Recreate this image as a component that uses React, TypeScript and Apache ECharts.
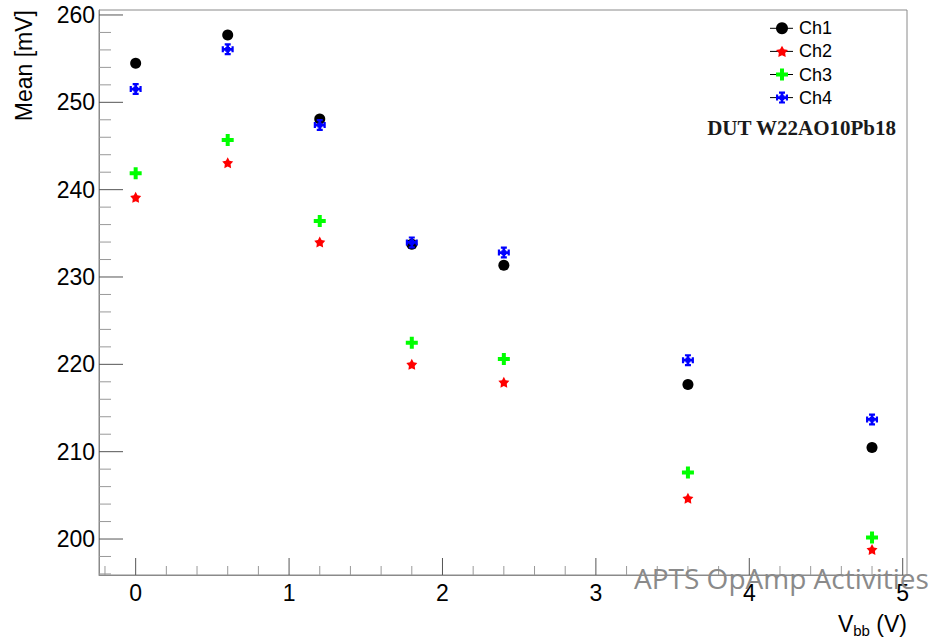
import React, { useEffect, useRef } from "react";
import * as echarts from "echarts";

// ---- data ----
const vbb = [0, 0.6, 1.2, 1.8, 2.4, 3.6, 4.8];
const ch1 = [254.47, 257.7, 248.09, 233.75, 231.35, 217.7, 210.48];
const ch2 = [239.12, 243.08, 234.0, 220.0, 217.96, 204.67, 198.8];
const ch3 = [241.87, 245.68, 236.4, 222.46, 220.6, 207.62, 200.17];
const ch4 = [251.52, 256.07, 247.4, 233.96, 232.8, 220.48, 213.69];
const seriesNames = ["Ch1", "Ch2", "Ch3", "Ch4"];

// axis ticks
const xMajorTicks = [0, 1, 2, 3, 4, 5];
const yMajorTicks = [200, 210, 220, 230, 240, 250, 260];
const X_MIN = -0.239;
const X_MAX = 5.028;
const Y_MIN = 195.88;
const Y_MAX = 260.57;

const xMinorTicks: number[] = [];
for (let i = -1; i <= 25; i++) {
  const v = Math.round(i * 0.2 * 10) / 10;
  if (v > X_MIN && v < X_MAX && !xMajorTicks.includes(v)) xMinorTicks.push(v);
}
const yMinorTicks: number[] = [];
for (let v = 196; v <= 260; v += 2) {
  if (v > Y_MIN && v < Y_MAX && !yMajorTicks.includes(v)) yMinorTicks.push(v);
}

// marker shapes
const STAR =
  "path://M50 0 L65.5 28.7 L97.55 34.55 L75 58.5 L79.39 90.45 L50 76.5 L20.61 90.45 L25 58.5 L2.45 34.55 L34.5 28.7 Z";
const CROSS = "path://M4 0H8V4H12V8H8V12H4V8H0V4H4Z";
const TCROSS =
  "path://M4.6 0H7.4V12H4.6Z M0 4.6H12V7.4H0Z M3 0H9V2.2H3Z M3 9.8H9V12H3Z M0 3H2.2V9H0Z M9.8 3H12V9H9.8Z M3.6 3.6H8.4V8.4H3.6Z";

const FONT = "Liberation Sans, Arial, Helvetica, sans-serif";

// legend layout
const LEG_LEFT = 776;
const LEG_TOP = 19.3;
const LEG_ICON = 12;
const LEG_ROW = 18; // height of one legend row (text height)
const LEG_GAP = 5.1;

export default function App() {
  const ref = useRef<HTMLDivElement>(null);
  useEffect(() => {
    if (!ref.current) return;
    const chart = echarts.init(ref.current, null, { renderer: "svg" });

    const mk = (ys: number[]) => vbb.map((x, i) => [x, ys[i]]);
    const tickLine = (horizontal: boolean, len: number, color: string) =>
      function (params: any, api: any) {
        const v = api.value(0);
        if (!horizontal) {
          const p = api.coord([v, Y_MIN]);
          return {
            type: "line",
            shape: { x1: p[0], y1: p[1], x2: p[0], y2: p[1] - len },
            style: { stroke: color, lineWidth: 1 },
          };
        }
        const p = api.coord([X_MIN, v]);
        return {
          type: "line",
          shape: { x1: p[0], y1: p[1], x2: p[0] + len, y2: p[1] },
          style: { stroke: color, lineWidth: 1 },
        };
      };

    const legendLines = seriesNames.map((_, i) => {
      const y = LEG_TOP + LEG_ROW / 2 + i * (LEG_ROW + LEG_GAP);
      return {
        type: "line",
        z: 3,
        shape: { x1: 770, y1: y, x2: 793, y2: y },
        style: { stroke: "#000", lineWidth: 1 },
      };
    });

    chart.setOption({
      animation: false,
      backgroundColor: "#fff",
      grid: {
        left: 99,
        top: 10,
        right: 26,
        bottom: 67,
        show: true,
        borderColor: "#8a8a8a",
        borderWidth: 1,
        backgroundColor: "transparent",
      },
      xAxis: {
        type: "value",
        min: X_MIN,
        max: X_MAX,
        splitLine: { show: false },
        axisLine: { show: true, onZero: false, lineStyle: { color: "#8a8a8a", width: 1 } },
        axisTick: { show: false },
        axisLabel: {
          color: "#000",
          fontFamily: FONT,
          fontSize: 23,
          margin: 6,
          showMinLabel: false,
          showMaxLabel: false,
          formatter: (v: number) => (xMajorTicks.includes(v) ? String(v) : ""),
        },
        name: "{v|V}{s|bb}{v| (V)}",
        nameLocation: "end",
        nameGap: 0,
        nameTextStyle: {
          align: "right",
          verticalAlign: "top",
          padding: [34, 0, 0, 0],
          fontFamily: FONT,
          color: "#000",
          rich: {
            v: { fontSize: 23, fontFamily: FONT, color: "#000" },
            s: { fontSize: 15, fontFamily: FONT, color: "#000", padding: [14, 0, 0, 0] },
          },
        },
      },
      yAxis: {
        type: "value",
        min: Y_MIN,
        max: Y_MAX,
        splitLine: { show: false },
        axisLine: { show: true, onZero: false, lineStyle: { color: "#8a8a8a", width: 1 } },
        axisTick: { show: false },
        axisLabel: {
          color: "#000",
          fontFamily: FONT,
          fontSize: 23,
          margin: 4,
          showMinLabel: false,
          showMaxLabel: false,
          formatter: (v: number) => (yMajorTicks.includes(v) ? String(v) : ""),
        },
      },
      legend: {
        orient: "vertical",
        left: LEG_LEFT,
        top: LEG_TOP,
        padding: 0,
        itemWidth: LEG_ICON,
        itemHeight: LEG_ICON,
        itemGap: LEG_GAP,
        selectedMode: false,
        itemStyle: { opacity: 1 },
        textStyle: {
          fontFamily: FONT,
          fontSize: 18,
          color: "#000",
          padding: [0, 0, 0, 6],
        },
        data: [
          { name: "Ch1", icon: "circle" },
          { name: "Ch2", icon: STAR },
          { name: "Ch3", icon: CROSS },
          { name: "Ch4", icon: TCROSS },
        ],
      },
      graphic: [
        ...legendLines,
        {
          type: "text",
          x: 24,
          y: 10,
          rotation: Math.PI / 2,
          style: {
            text: "Mean [mV]",
            fontFamily: FONT,
            fontSize: 23,
            fill: "#000",
            align: "right",
            verticalAlign: "middle",
          },
        },
        {
          type: "text",
          x: 896,
          y: 128,
          style: {
            text: "DUT W22AO10Pb18",
            fontFamily: "Liberation Serif, Times New Roman, serif",
            fontWeight: "bold",
            fontSize: 21,
            fill: "#1a1a1a",
            align: "right",
            verticalAlign: "middle",
          },
        },
        {
          type: "text",
          x: 634,
          y: 578,
          z: 100,
          style: {
            text: "APTS OpAmp Activities",
            fontFamily: "Open Sans, sans-serif",
            fontSize: 28,
            fill: "#8a8a8a",
            align: "left",
            verticalAlign: "middle",
          },
        },
      ],
      series: [
        {
          type: "custom",
          name: "xMajor",
          silent: true,
          z: 1,
          renderItem: tickLine(false, 17, "#555"),
          data: xMajorTicks.map((v) => [v]),
        },
        {
          type: "custom",
          name: "xMinor",
          silent: true,
          z: 1,
          renderItem: tickLine(false, 9, "#999"),
          data: xMinorTicks.map((v) => [v]),
        },
        {
          type: "custom",
          name: "yMajor",
          silent: true,
          z: 1,
          renderItem: tickLine(true, 24, "#555"),
          data: yMajorTicks.map((v) => [v]),
        },
        {
          type: "custom",
          name: "yMinor",
          silent: true,
          z: 1,
          renderItem: tickLine(true, 12, "#999"),
          data: yMinorTicks.map((v) => [v]),
        },
        {
          type: "scatter",
          name: "Ch1",
          symbol: "circle",
          symbolSize: 11,
          itemStyle: { color: "#000000", opacity: 1 },
          data: mk(ch1),
        },
        {
          type: "scatter",
          name: "Ch2",
          symbol: STAR,
          symbolSize: 11,
          itemStyle: { color: "#ff0000", opacity: 1 },
          data: mk(ch2),
        },
        {
          type: "scatter",
          name: "Ch3",
          symbol: CROSS,
          symbolSize: 12,
          itemStyle: { color: "#00ff00", opacity: 1 },
          data: mk(ch3),
        },
        {
          type: "scatter",
          name: "Ch4",
          symbol: TCROSS,
          symbolSize: 12,
          itemStyle: { color: "#0000ff", opacity: 1 },
          data: mk(ch4),
        },
      ],
    });
    return () => chart.dispose();
  }, []);
  return (
    <div
      ref={ref}
      style={{ position: "fixed", left: 0, top: 0, width: 933, height: 642 }}
    />
  );
}
